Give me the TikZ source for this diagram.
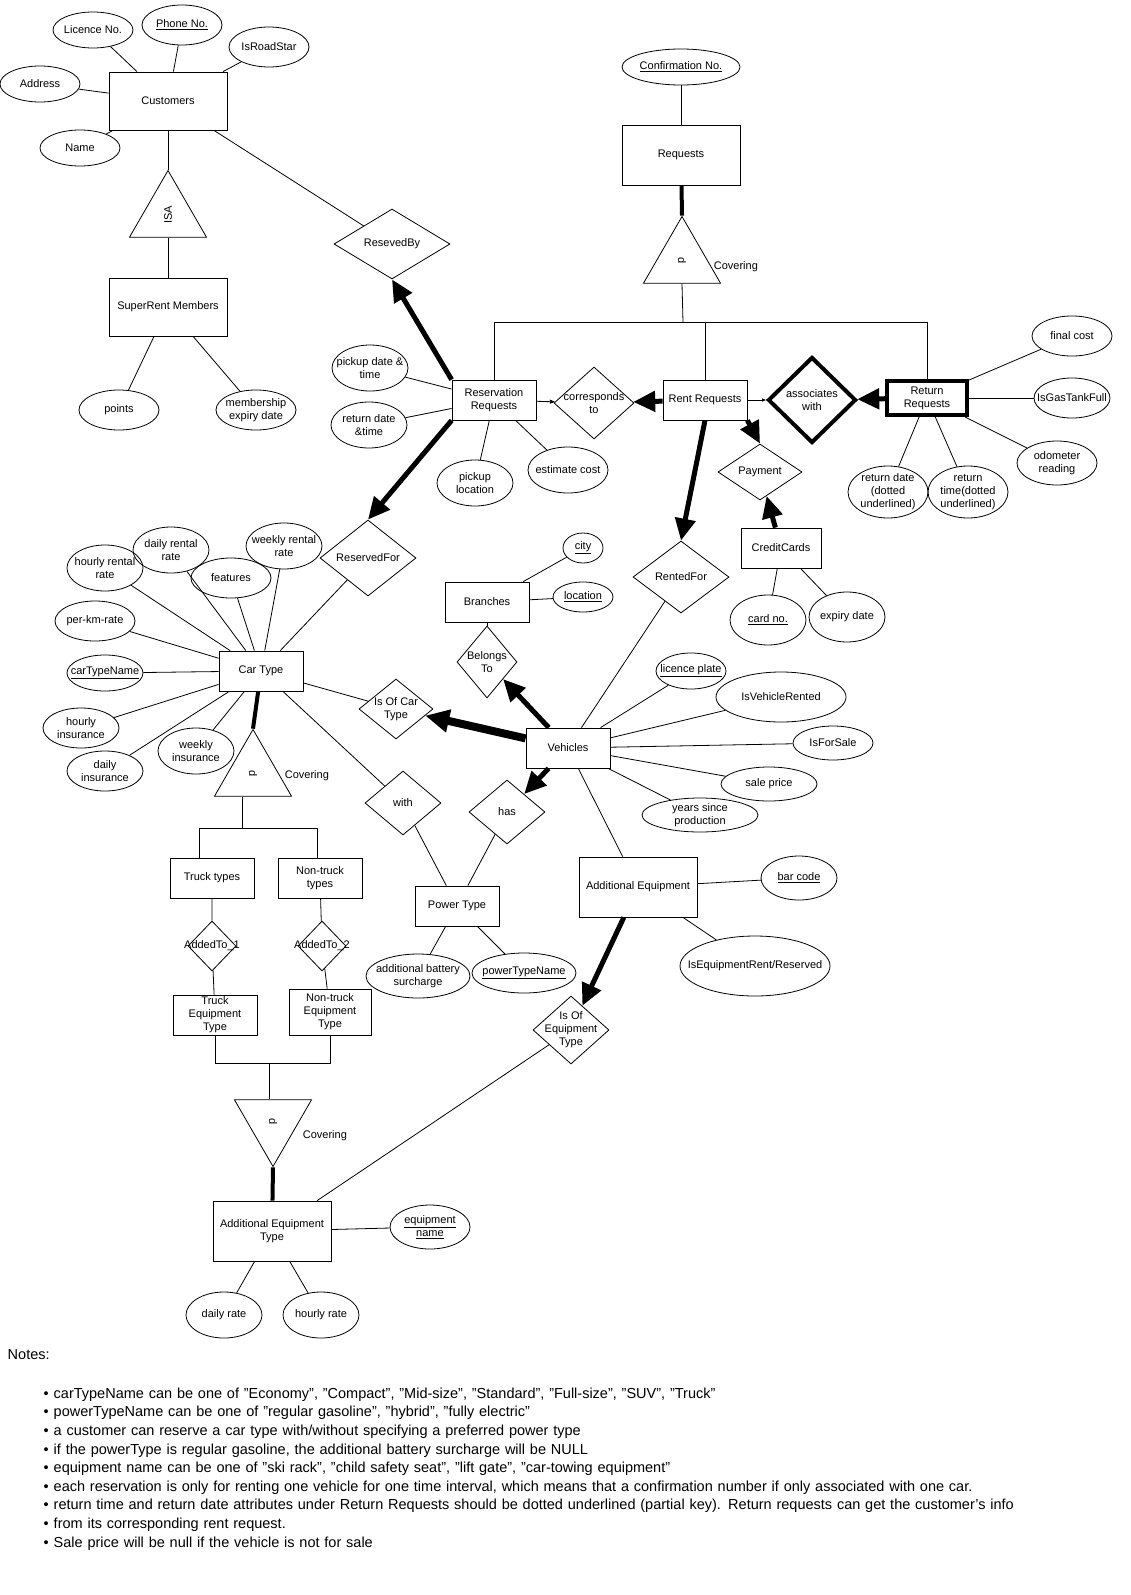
\documentclass[tikz,border=0pt]{standalone}
\usepackage{fontspec}
\setmainfont{Liberation Sans}
\usetikzlibrary{positioning,shapes.geometric,arrows.meta}
\tikzstyle{ent}=[rectangle,draw=black,line width=0.8pt,align=center,minimum width=84pt,minimum height=40pt,inner sep=1pt]
\tikzstyle{attr}=[ellipse,draw=black,line width=0.8pt,inner sep=0pt,minimum width=80pt,minimum height=40pt]
\tikzstyle{rel}=[diamond,draw=black,line width=0.8pt,inner sep=0pt]
\tikzstyle{tri}=[regular polygon,regular polygon sides=3,draw=black,line width=0.8pt,minimum size=89pt,inner sep=0pt]
\tikzstyle{big}=[line width=5pt,-{Triangle[length=22pt,width=20pt]}]
\tikzset{every label/.style={align=center},every node/.style={font=\fontsize{11}{13}\selectfont}}

\begin{document}
\begin{tikzpicture}[x=1pt,y=-1pt,line width=0.8pt]
\useasboundingbox (0,0) rectangle (1131,1595);

% entities
\node (Customers) [ent,minimum width=118pt,minimum height=58pt] at (168,101) {Customers};
\node (SuperRent) [ent,minimum width=118pt,minimum height=58pt] at (168,307) {SuperRent Members};
\node (Requests) [ent,minimum width=118pt,minimum height=60pt] at (681,155) {Requests};
\node (ResvReq) [ent] at (494,400) {Reservation\\Requests};
\node (RentReq) [ent] at (705,400) {Rent Requests};
\node (RetReq) [ent,line width=4pt,minimum width=80pt,minimum height=34pt] at (927,398) {Return\\Requests};
\node (CreditCards) [ent,minimum width=80pt] at (781,548) {CreditCards};
\node (Branches) [ent] at (487,602) {Branches};
\node (CarType) [ent] at (261,671) {Car Type};
\node (Vehicles) [ent] at (568,748) {Vehicles};
\node (TruckTypes) [ent] at (212,878) {Truck types};
\node (NonTruckTypes) [ent] at (320,878) {Non-truck\\types};
\node (PowerType) [ent] at (457,906) {Power Type};
\node (AddEquip) [ent,minimum width=118pt,minimum height=60pt] at (638,887) {Additional Equipment};
\node (TruckEquip) [ent] at (215,1015) {Truck\\Equipment\\Type};
\node (NonTruckEquip) [ent,minimum width=82pt,minimum height=46pt] at (330,1012) {Non-truck\\Equipment\\Type};
\node (AddEquipType) [ent,minimum width=118pt,minimum height=60pt] at (272,1231) {Additional Equipment\\Type};

% attributes
\node (LicenceNo) [attr,minimum height=36pt,label=center:Licence No.] at (93,30) {};
\node (PhoneNo) [attr,label=center:\underline{Phone No.}] at (182,25) {};
\node (IsRoadStar) [attr] at (269,47) {IsRoadStar};
\node (Address) [attr,minimum height=36pt] at (40,84) {Address};
\node (Name) [attr,minimum height=36pt] at (80,148) {Name};
\node (Points) [attr] at (119,410) {points};
\node (MemExpiry) [attr,label=center:membership\\expiry date] at (256,410) {};
\node (ConfNo) [attr,minimum width=118pt,minimum height=36pt,label=center:\underline{Confirmation No.}] at (681,67) {};
\node (PickupDate) [attr,minimum width=76pt,minimum height=46pt,label=center:pickup date \&\\time] at (370,368) {};
\node (ReturnDate) [attr,minimum width=76pt,minimum height=46pt,label=center:return date\\\&time] at (369,425) {};
\node (PickupLoc) [attr,minimum width=76pt,minimum height=46pt,label=center:pickup\\location] at (475,483) {};
\node (EstCost) [attr,minimum height=46pt,label=center:estimate cost] at (568,470) {};
\node (FinalCost) [attr] at (1072,336) {final cost};
\node (GasFull) [attr,minimum width=76pt,label=center:IsGasTankFull] at (1072,398) {};
\node (Odometer) [attr,minimum height=44pt,label=center:odometer\\reading] at (1057,463) {};
\node (RetDate) [attr,minimum height=52pt,label=center:return date\\(dotted\\underlined)] at (888,492) {};
\node (RetTime) [attr,minimum height=52pt,label=center:return\\time(dotted\\underlined)] at (968,492) {};
\node (City) [attr,minimum width=40pt,minimum height=30pt,label=center:\underline{city}] at (583,548) {};
\node (Location) [attr,minimum width=60pt,minimum height=30pt,label=center:\underline{location}] at (583,597) {};
\node (CardNo) [attr,minimum width=76pt,minimum height=50pt,label=center:\underline{card no.}] at (768,620) {};
\node (ExpiryDate) [attr,minimum width=76pt,minimum height=50pt,label=center:expiry date] at (847,617) {};
\node (DailyRental) [attr,minimum width=76pt,minimum height=46pt,label=center:daily rental\\rate] at (171,550) {};
\node (HourlyRental) [attr,minimum width=76pt,minimum height=46pt,label=center:hourly rental\\rate] at (105,568) {};
\node (WeeklyRental) [attr,minimum width=76pt,minimum height=46pt,label=center:weekly rental\\rate] at (284,546) {};
\node (Features) [attr] at (231,578) {features};
\node (PerKm) [attr,label=center:per-km-rate] at (95,621) {};
\node (CarTypeName) [attr,minimum width=76pt,minimum height=36pt,label=center:\underline{carTypeName}] at (105,673) {};
\node (HourlyIns) [attr,minimum width=76pt,label=center:hourly\\insurance] at (81,728) {};
\node (DailyIns) [attr,minimum width=76pt,label=center:daily\\insurance] at (105,771) {};
\node (WeeklyIns) [attr,minimum width=76pt,minimum height=46pt,label=center:weekly\\insurance] at (196,751) {};
\node (LicencePlate) [attr,minimum width=70pt,minimum height=36pt,label=center:\underline{licence plate}] at (691,671) {};
\node (IsRented) [attr,minimum width=130pt,minimum height=50pt] at (781,697) {IsVehicleRented};
\node (IsForSale) [attr,minimum height=34pt] at (833,743) {IsForSale};
\node (SalePrice) [attr,minimum width=96pt,minimum height=34pt] at (769,784) {sale price};
\node (YearsProd) [attr,minimum width=116pt,minimum height=34pt,label=center:years since\\production] at (700,815) {};
\node (BarCode) [attr,minimum width=76pt,minimum height=44pt,label=center:\underline{bar code}] at (799,878) {};
\node (IsEqRent) [attr,minimum width=150pt,minimum height=60pt,label=center:IsEquipmentRent/Reserved] at (755,966) {};
\node (BatterySur) [attr,minimum width=104pt,minimum height=44pt,label=center:additional battery\\surcharge] at (418,976) {};
\node (PowerTypeName) [attr,minimum width=104pt,label=center:\underline{powerTypeName}] at (524,973) {};
\node (EquipName) [attr,minimum height=44pt,label=center:\underline{equipment}\\\underline{name}] at (430,1227) {};
\node (DailyRate) [attr,minimum width=76pt,minimum height=46pt] at (224,1315) {daily rate};
\node (HourlyRate) [attr,minimum width=76pt,minimum height=46pt] at (321,1315) {hourly rate};

% relationships
\node (ResevedBy) [rel,minimum width=116pt,minimum height=70pt,label=center:ResevedBy] at (392,244) {};
\node (CorrespondsTo) [rel,minimum width=80pt,minimum height=72pt,label=center:corresponds\\to] at (594,403) {};
\node (AssociatesWith) [rel,line width=4pt,minimum width=88pt,minimum height=86pt,label=center:associates\\with] at (812,400) {};
\node (Payment) [rel,minimum width=84pt,minimum height=56pt,label=center:Payment] at (760,472) {};
\node (ReservedFor) [rel,minimum width=96pt,minimum height=76pt,label=center:ReservedFor] at (368,558) {};
\node (RentedFor) [rel,minimum width=96pt,minimum height=72pt,label=center:RentedFor] at (681,577) {};
\node (BelongsTo) [rel,minimum width=60pt,minimum height=72pt,label=center:Belongs\\To] at (487,662) {};
\node (IsOfCarType) [rel,minimum width=74pt,minimum height=60pt,label=center:Is Of Car\\Type] at (396,709) {};
\node (Has) [rel,minimum width=76pt,minimum height=64pt,label=center:has] at (507,812) {};
\node (With) [rel,minimum width=76pt,minimum height=64pt,label=center:with] at (403,803) {};
\node (AddedTo1) [rel,minimum width=48pt,minimum height=50pt,label=center:AddedTo\_1] at (212,946) {};
\node (AddedTo2) [rel,minimum width=48pt,minimum height=50pt,label=center:AddedTo\_2] at (322,946) {};
\node (IsOfEquipType) [rel,minimum width=76pt,minimum height=68pt,label=center:Is Of\\Equipment\\Type] at (571,1030) {};

% ISA / covering triangles
\node (ISA) [tri,label={[rotate=90]center:ISA}] at (168,215) {};
\node (ReqCover) [tri,label={[rotate=-90]center:d}] at (682,261) {};
\node (CarCover) [tri,label={[rotate=-90]center:d}] at (253,774) {};
\node (EquipCover) [tri,shape border rotate=180,label={[rotate=-90]center:d}] at (273,1122) {};
\node (ReqCoverTxt) [right=2pt of ReqCover.east, yshift=-6pt] {Covering};
\node (CarCoverTxt) [right=2pt of CarCover.east, yshift=-2pt] {Covering};
\node (EquipCoverTxt) [right=0pt of EquipCover.east, yshift=-14pt] {Covering};

\coordinate (ReqBar) at (683,322);
\coordinate (CarBar) at (242,828);
\coordinate (CarBarL) at (199,828);
\coordinate (CarBarR) at (317,828);
\coordinate (EquipBar) at (269,1063);

% connectors
\foreach \a in {LicenceNo,PhoneNo,IsRoadStar,Address,Name}
  \draw (Customers) -- (\a);
\draw (Customers) -- (ISA.corner 1);
\draw (ISA.side 2) -- (SuperRent);
\draw (SuperRent) -- (Points);
\draw (SuperRent) -- (MemExpiry);
\draw (Customers) -- (ResevedBy);
\draw [big] (ResvReq.north west) -- (ResevedBy.south);
\draw (ConfNo) -- (Requests);
\draw [line width=4pt] (Requests) -- (ReqCover.corner 1);
\draw (ReqCover.side 2) -- (ReqBar);
\draw (ResvReq.north) |- (RetReq.north |- ReqBar) -- (RetReq.north);
\draw (RentReq.north) -- (RentReq.north |- ReqBar);
\draw [-{Triangle[length=5pt,width=4pt]}] (ResvReq) -- (CorrespondsTo);
\draw [big] (RentReq) -- (CorrespondsTo);
\draw [-{Triangle[length=4pt,width=3pt]}] (RentReq) -- (AssociatesWith);
\draw [big] (RetReq) -- (AssociatesWith);
\foreach \a in {FinalCost,GasFull,Odometer,RetDate,RetTime}
  \draw (RetReq) -- (\a);
\foreach \a in {PickupDate,ReturnDate,PickupLoc,EstCost}
  \draw (ResvReq) -- (\a);
\draw [big] (ResvReq.south west) -- (ReservedFor.north);
\draw (ReservedFor) -- (CarType);
\draw [big] (RentReq.south) -- (RentedFor.north);
\draw [big] (RentReq.south east) -- (Payment.north);
\draw [big] (CreditCards) -- (Payment);
\draw (CreditCards) -- (CardNo);
\draw (CreditCards) -- (ExpiryDate);
\draw (RentedFor) -- (Vehicles);
\draw (Branches) -- (City);
\draw (Branches) -- (Location);
\draw (Branches) -- (BelongsTo);
\draw [big] (Vehicles) -- (BelongsTo);
\draw [line width=8pt,-{Triangle[length=24pt,width=22pt]}] (Vehicles) -- (IsOfCarType);
\draw (IsOfCarType) -- (CarType);
\draw [big] (Vehicles) -- (Has);
\draw (Has) -- (PowerType);
\draw (With) -- (CarType);
\draw (With) -- (PowerType);
\foreach \a in {LicencePlate,IsRented,IsForSale,SalePrice,YearsProd,AddEquip}
  \draw (Vehicles) -- (\a);
\foreach \a in {DailyRental,HourlyRental,WeeklyRental,Features,PerKm,CarTypeName,HourlyIns,DailyIns,WeeklyIns}
  \draw (CarType) -- (\a);
\draw [line width=4pt] (CarType) -- (CarCover.corner 1);
\draw (CarBar) -- (CarBar |- CarCover.side 2);
\draw (TruckTypes.north -| CarBarL) -- (CarBarL) -- (CarBarR) -- (NonTruckTypes.north -| CarBarR);
\draw (TruckTypes) -- (AddedTo1) -- (TruckEquip);
\draw (NonTruckTypes) -- (AddedTo2) -- (NonTruckEquip);
\draw (TruckEquip.south) |- (NonTruckEquip.south |- EquipBar) -- (NonTruckEquip.south);
\draw (EquipBar) -- (EquipBar |- EquipCover.side 2);
\draw [line width=4pt] (EquipCover.corner 1) -- (AddEquipType);
\draw (AddEquipType) -- (IsOfEquipType);
\draw [big] (AddEquip) -- (IsOfEquipType);
\draw (AddEquip) -- (BarCode);
\draw (AddEquip) -- (IsEqRent);
\draw (PowerType) -- (BatterySur);
\draw (PowerType) -- (PowerTypeName);
\draw (AddEquipType) -- (EquipName);
\draw (AddEquipType) -- (DailyRate);
\draw (AddEquipType) -- (HourlyRate);

% notes
\node (Notes) [anchor=north west,text width=1110pt,font=\fontsize{14.5}{18.6}\selectfont] at (4,1346) {%
Notes:\par\vspace{10pt}
\setlength{\leftmargini}{46pt}
\begin{itemize}\setlength{\itemsep}{-4pt}\setlength{\parsep}{0pt}\setlength{\topsep}{0pt}
\item carTypeName can be one of "Economy", "Compact", "Mid-size", "Standard", "Full-size", "SUV", "Truck"
\item powerTypeName can be one of "regular gasoline", "hybrid", "fully electric"
\item a customer can reserve a car type with/without specifying a preferred power type
\item if the powerType is regular gasoline, the additional battery surcharge will be NULL
\item equipment name can be one of "ski rack", "child safety seat", "lift gate", "car-towing equipment"
\item each reservation is only for renting one vehicle for one time interval, which means that a confirmation number if only associated with one car.
\item return time and return date attributes under Return Requests should be dotted underlined (partial key). Return requests can get the customer's info
\item from its corresponding rent request.
\item Sale price will be null if the vehicle is not for sale
\end{itemize}};
\end{tikzpicture}
\end{document}
